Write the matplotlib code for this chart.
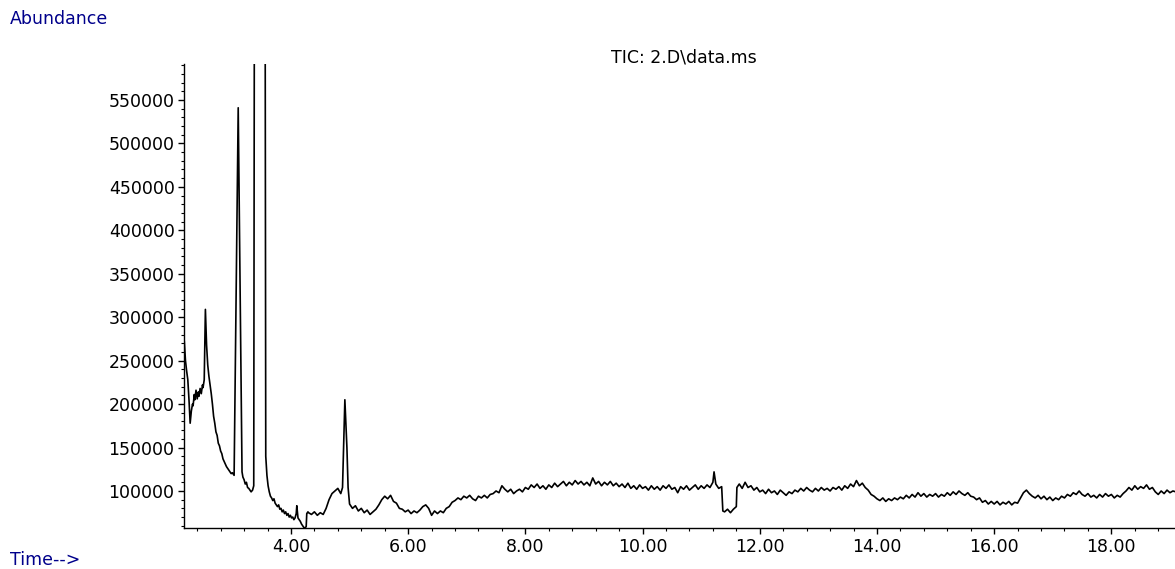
import numpy as np
import matplotlib
matplotlib.use("Agg")
import matplotlib.pyplot as plt
from matplotlib.ticker import MultipleLocator, FormatStrFormatter

# TIC trace (time in min, abundance in thousands)
times_early = [2.18, 2.20, 2.22, 2.24, 2.26, 2.28, 2.30, 2.32, 2.33, 2.35,
               2.36, 2.38, 2.40, 2.42, 2.43, 2.45, 2.47, 2.49, 2.50, 2.52,
               2.54, 2.56, 2.58, 2.60, 2.62, 2.64, 2.66, 2.68, 2.70, 2.72,
               2.74, 2.76, 2.78, 2.80, 2.82, 2.84, 2.86, 2.88, 2.90, 2.92,
               2.94, 2.96, 2.98, 3.00, 3.03, 3.10, 3.165, 3.18, 3.20, 3.22,
               3.24, 3.26, 3.28, 3.30, 3.32, 3.345, 3.365, 3.38, 3.47, 3.555,
               3.57, 3.59, 3.61, 3.63, 3.65, 3.67, 3.69, 3.71, 3.73, 3.75,
               3.77, 3.79, 3.81, 3.83, 3.85, 3.87, 3.89, 3.91, 3.93, 3.95,
               3.97, 3.99, 4.01, 4.03, 4.05, 4.07, 4.09, 4.10, 4.12, 4.14,
               4.16, 4.18, 4.20, 4.22, 4.24, 4.26, 4.27, 4.29]
abund_early = [272, 250, 238, 228, 205, 178, 192, 200, 198, 211,
               205, 216, 206, 214, 209, 218, 212, 222, 219, 228,
               309, 268, 245, 232, 222, 212, 200, 186, 178, 168,
               164, 155, 152, 146, 143, 137, 134, 131, 128, 126,
               124, 122, 120, 121, 118, 541, 122, 116, 113, 108,
               110, 104, 103, 101, 99, 101, 106, 900, 1500, 900,
               140, 118, 106, 99, 94, 92, 89, 91, 86, 84,
               82, 84, 79, 80, 76, 78, 74, 76, 72, 74,
               70, 72, 69, 70, 67, 69, 74, 83, 69, 67,
               65, 62, 60, 58, 57.5, 59, 74, 76]

times_late = [4.30, 4.35, 4.40, 4.45, 4.50, 4.55, 4.60, 4.65, 4.70, 4.75,
              4.80, 4.85, 4.88, 4.92, 4.955, 4.975, 5.00, 5.05, 5.10, 5.15,
              5.20, 5.25, 5.30, 5.35, 5.40, 5.45, 5.50, 5.55, 5.60, 5.65,
              5.70, 5.75, 5.80, 5.85, 5.90, 5.95, 6.00, 6.05, 6.10, 6.15,
              6.20, 6.25, 6.30, 6.35, 6.40, 6.45, 6.50, 6.55, 6.60, 6.65,
              6.70, 6.75, 6.80, 6.85, 6.90, 6.95, 7.00, 7.05, 7.10, 7.15,
              7.20, 7.25, 7.30, 7.35, 7.40, 7.45, 7.50, 7.55, 7.60, 7.65,
              7.70, 7.75, 7.80, 7.85, 7.90, 7.95, 8.00, 8.05, 8.10, 8.15,
              8.20, 8.25, 8.30, 8.35, 8.40, 8.45, 8.50, 8.55, 8.60, 8.65,
              8.70, 8.75, 8.80, 8.85, 8.90, 8.95, 9.00, 9.05, 9.10, 9.15,
              9.20, 9.25, 9.30, 9.35, 9.40, 9.45, 9.50, 9.55, 9.60, 9.65,
              9.70, 9.75, 9.80, 9.85, 9.90, 9.95, 10.00, 10.05, 10.10, 10.15,
              10.20, 10.25, 10.30, 10.35, 10.40, 10.45, 10.50, 10.55, 10.60, 10.65,
              10.70, 10.75, 10.80, 10.85, 10.90, 10.95, 11.00, 11.05, 11.10, 11.15,
              11.20, 11.22, 11.25, 11.30, 11.35, 11.37, 11.40, 11.45, 11.50, 11.55,
              11.60, 11.61, 11.65, 11.70, 11.75, 11.80, 11.85, 11.90, 11.95, 12.00,
              12.05, 12.10, 12.15, 12.20, 12.25, 12.30, 12.35, 12.40, 12.45, 12.50,
              12.55, 12.60, 12.65, 12.70, 12.75, 12.80, 12.85, 12.90, 12.95, 13.00,
              13.05, 13.10, 13.15, 13.20, 13.25, 13.30, 13.35, 13.40, 13.45, 13.50,
              13.55, 13.60, 13.65, 13.70, 13.75, 13.80, 13.85, 13.90, 13.95, 14.00,
              14.05, 14.10, 14.15, 14.20, 14.25, 14.30, 14.35, 14.40, 14.45, 14.50,
              14.55, 14.60, 14.65, 14.70, 14.75, 14.80, 14.85, 14.90, 14.95, 15.00,
              15.05, 15.10, 15.15, 15.20, 15.25, 15.30, 15.35, 15.40, 15.45, 15.50,
              15.55, 15.60, 15.65, 15.70, 15.75, 15.80, 15.85, 15.90, 15.95, 16.00,
              16.05, 16.10, 16.15, 16.20, 16.25, 16.30, 16.35, 16.40, 16.45, 16.50,
              16.55, 16.60, 16.65, 16.70, 16.75, 16.80, 16.85, 16.90, 16.95, 17.00,
              17.05, 17.10, 17.15, 17.20, 17.25, 17.30, 17.35, 17.40, 17.45, 17.50,
              17.55, 17.60, 17.65, 17.70, 17.75, 17.80, 17.85, 17.90, 17.95, 18.00,
              18.05, 18.10, 18.15, 18.20, 18.25, 18.30, 18.35, 18.40, 18.45, 18.50,
              18.55, 18.60, 18.65, 18.70, 18.75, 18.80, 18.85, 18.90, 18.95, 19.00,
              19.05, 19.10]
abund_late = [75, 73, 76, 72, 75, 73, 80, 90, 97, 100,
              103, 97, 104, 205, 150, 104, 85, 80, 83, 77,
              80, 75, 78, 73, 76, 79, 84, 90, 94, 91,
              95, 88, 86, 80, 79, 76, 78, 74, 77, 75,
              78, 82, 84, 80, 72, 77, 74, 77, 75, 80,
              82, 87, 89, 92, 90, 94, 92, 95, 91, 89,
              94, 92, 95, 92, 96, 97, 100, 98, 106, 102,
              99, 102, 97, 100, 102, 99, 104, 102, 107, 104,
              108, 103, 106, 102, 107, 104, 109, 105, 108, 111,
              106, 110, 107, 112, 108, 111, 107, 110, 106, 115,
              108, 111, 106, 110, 107, 111, 106, 109, 105, 108,
              104, 109, 103, 106, 102, 107, 103, 105, 101, 106,
              102, 105, 101, 106, 103, 107, 102, 104, 98, 105,
              102, 106, 101, 104, 107, 102, 106, 103, 107, 104,
              110, 122, 108, 103, 105, 77, 76, 79, 75, 79,
              82, 104, 108, 103, 110, 104, 106, 101, 104, 99,
              101, 97, 102, 98, 100, 96, 101, 98, 95, 99,
              97, 101, 99, 103, 100, 104, 101, 99, 103, 100,
              104, 101, 103, 100, 104, 102, 105, 101, 106, 103,
              108, 105, 112, 106, 109, 104, 101, 96, 94, 91,
              89, 92, 88, 91, 89, 92, 90, 93, 91, 95,
              92, 96, 93, 98, 94, 97, 93, 96, 94, 97,
              93, 96, 94, 98, 95, 99, 96, 100, 97, 95,
              98, 94, 93, 90, 92, 87, 89, 85, 88, 85,
              88, 84, 87, 85, 88, 84, 87, 86, 92, 98,
              101, 97, 94, 92, 95, 91, 94, 90, 93, 89,
              92, 90, 94, 92, 96, 94, 98, 96, 100, 96,
              94, 97, 93, 95, 92, 96, 93, 97, 94, 96,
              92, 95, 93, 97, 100, 104, 101, 106, 102, 105,
              103, 107, 102, 104, 99, 96, 100, 97, 101, 98,
              100, 99]

title = "TIC: 2.D\\data.ms"
navy = "#00008b"

assert len(times_early) == len(abund_early)
assert len(times_late) == len(abund_late)
times = np.array(times_early + times_late)
abundance = np.array(abund_early + abund_late) * 1000

W, H = 1175, 569
fig = plt.figure(figsize=(W / 100, H / 100), dpi=100)
plt.rcParams['font.family'] = ['DejaVu Sans']
ax = fig.add_axes([184.3 / W, 41 / H, (W - 184.3) / W, (528 - 64) / H])

ax.plot(times, abundance, color='black', lw=1.2)
ax.set_xlim(2.18, 19.086)
ax.set_ylim(57400, 591400)

for side in ['top', 'right']:
    ax.spines[side].set_visible(False)
for side in ['left', 'bottom']:
    ax.spines[side].set_linewidth(1.0)

ax.xaxis.set_major_locator(MultipleLocator(2))
ax.xaxis.set_minor_locator(MultipleLocator(0.4))
ax.xaxis.set_major_formatter(FormatStrFormatter('%.2f'))
ax.yaxis.set_major_locator(MultipleLocator(50000))
ax.yaxis.set_minor_locator(MultipleLocator(10000))
ax.yaxis.set_major_formatter(FormatStrFormatter('%d'))

ax.tick_params(which='major', direction='out', length=4, width=1, labelsize=12.5, pad=3)
ax.tick_params(which='minor', direction='out', length=2.2, width=0.8)

fig.text(684 / W, 1 - 63 / H, title, ha='center', va='baseline', fontsize=12.5)
fig.text(10 / W, 1 - 24 / H, "Abundance", ha='left', va='baseline', fontsize=12.5, color=navy)
fig.text(10 / W, 1 - 565 / H, "Time-->", ha='left', va='baseline', fontsize=12.5, color=navy)

fig.savefig("out.png", dpi=100)
